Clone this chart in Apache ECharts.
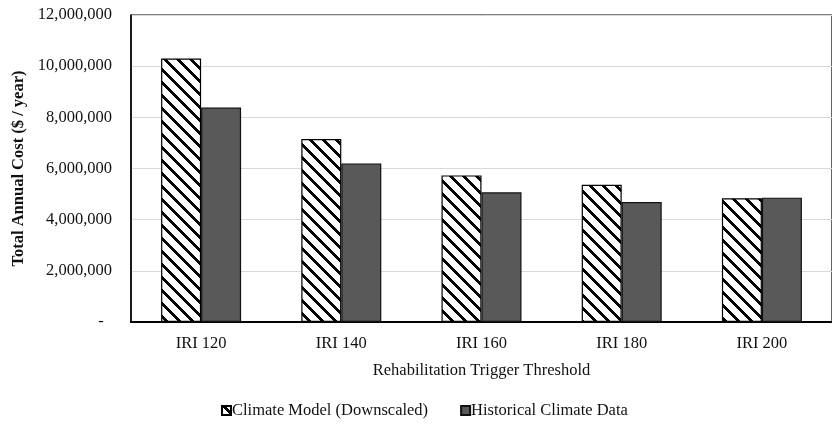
<!DOCTYPE html>
<html>
<head>
<meta charset="utf-8">
<script src="https://cdn.jsdelivr.net/npm/echarts@6/dist/echarts.min.js"></script>
<style>
  html, body { margin: 0; padding: 0; background: #fff; }
  #chart { width: 832px; height: 433px; }
</style>
</head>
<body>
<div id="chart"></div>
<script>
// Rehabilitation trigger thresholds and total annual cost ($ / year)
const categories = ['IRI 120', 'IRI 140', 'IRI 160', 'IRI 180', 'IRI 200'];
const climateModel = [10300000, 7150000, 5730000, 5360000, 4840000];
const historicalClimate = [8380000, 6200000, 5070000, 4690000, 4860000];
const seriesNames = ['Climate Model (Downscaled)', 'Historical Climate Data'];
const yTicks = { min: 0, max: 12000000, interval: 2000000 };

// Crisp diagonal hatch tile ("\" direction), drawn pixel by pixel
function hatchTile(period, thick) {
  const c = document.createElement('canvas');
  c.width = period; c.height = period;
  const ctx = c.getContext('2d');
  ctx.fillStyle = '#fff';
  ctx.fillRect(0, 0, period, period);
  ctx.fillStyle = '#000';
  for (let y = 0; y < period; y++) {
    for (let x = 0; x < period; x++) {
      const d = ((x - y) % period + period) % period;
      if (d < thick) ctx.fillRect(x, y, 1, 1);
    }
  }
  return c;
}

const hatch = { image: hatchTile(13, 4), repeat: 'repeat' };
const font = '"Liberation Serif", "Times New Roman", serif';
const fs = 16.5;
const chart = echarts.init(document.getElementById('chart'), null, { renderer: 'canvas' });

chart.setOption({
  animation: false,
  backgroundColor: '#fff',
  textStyle: { fontFamily: font, color: '#111' },
  grid: {
    left: 131, top: 15, width: 710, height: 307,
    show: true, borderColor: '#000', borderWidth: 1.2, backgroundColor: 'transparent'
  },
  legend: {
    left: 216, top: 397,
    itemWidth: 9, itemHeight: 9, itemGap: 32,
    icon: 'rect',
    textStyle: { fontFamily: font, fontSize: fs, color: '#111', padding: [0, 0, 0, -4] },
    data: seriesNames
  },
  xAxis: {
    type: 'category',
    data: categories,
    name: 'Rehabilitation Trigger Threshold',
    nameLocation: 'middle',
    nameGap: 40,
    nameTextStyle: { fontFamily: font, fontSize: fs, color: '#111' },
    axisLine: { lineStyle: { color: '#000', width: 2 } },
    axisTick: { show: false },
    axisLabel: { fontFamily: font, fontSize: fs, color: '#111', margin: 13 }
  },
  yAxis: {
    type: 'value',
    min: yTicks.min, max: yTicks.max, interval: yTicks.interval,
    name: 'Total Annual Cost ($ / year)',
    nameLocation: 'middle',
    nameGap: 104,
    nameTextStyle: { fontFamily: font, fontSize: fs, fontWeight: 'bold', color: '#111' },
    axisLine: { show: true, lineStyle: { color: '#000', width: 1.5 } },
    axisTick: { show: false },
    splitLine: { lineStyle: { color: '#d9d9d9', width: 1 } },
    axisLabel: {
      fontFamily: font, fontSize: fs, color: '#111', margin: 19,
      formatter: v => v === 0 ? '-  ' : v.toLocaleString('en-US')
    }
  },
  series: [
    {
      name: seriesNames[0],
      type: 'bar',
      data: climateModel,
      barWidth: 40,
      barGap: '0%',
      itemStyle: { color: hatch, borderColor: '#000', borderWidth: 1.2 }
    },
    {
      name: seriesNames[1],
      type: 'bar',
      data: historicalClimate,
      barWidth: 40,
      itemStyle: { color: '#595959', borderColor: '#111', borderWidth: 1.2 }
    }
  ]
});
</script>
</body>
</html>
